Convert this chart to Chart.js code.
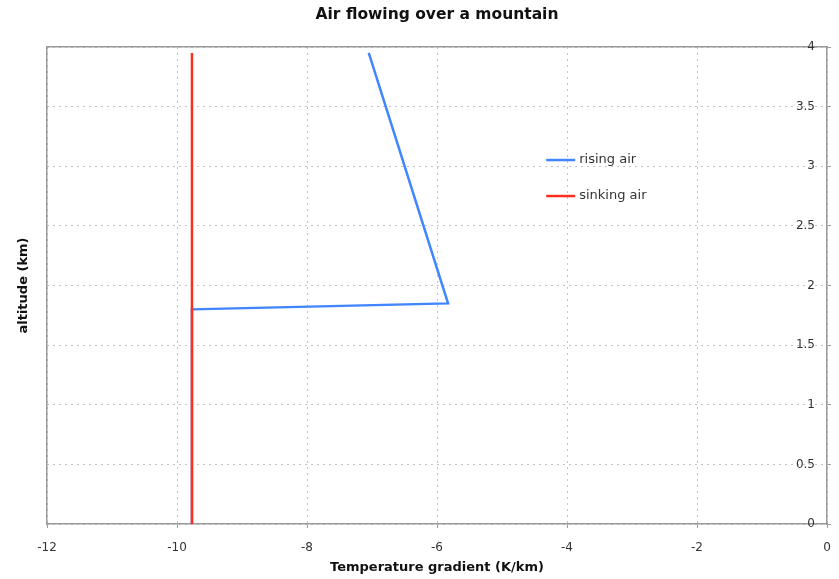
<!DOCTYPE html>
<html>
<head>
<meta charset="utf-8">
<script src="https://cdn.jsdelivr.net/npm/chart.js@4"></script>
<style>
  html, body { margin: 0; padding: 0; background: #fff; }
  #wrap { width: 839px; height: 579px; }
</style>
</head>
<body>
<div id="wrap"><canvas id="chart"></canvas></div>
<script>
// temperature gradient (K/km) and altitude (km)
const risingX = [-9.77, -9.77, -5.83, -7.05];
const risingY = [0, 1.8, 1.85, 3.95];
const sinkingX = [-9.77, -9.77];
const sinkingY = [0, 3.95];
const seriesNames = ["rising air", "sinking air"];

const toPoints = (xs, ys) => xs.map((x, i) => ({ x: x, y: ys[i] }));

const frameColor = "#9a9a9a";
const gridColor = "#c4c4c4";
const textColor = "#333";
const font = "'DejaVu Sans', Verdana, sans-serif";

// legend drawn inside the plot, placed as a fraction of the chart area
const innerLegend = {
  id: "innerLegend",
  afterDraw(chart) {
    const ctx = chart.ctx;
    const area = chart.chartArea;
    const x0 = area.left + 0.64 * (area.right - area.left);
    let y = area.top + 0.237 * (area.bottom - area.top);
    ctx.save();
    ctx.font = "13px " + font;
    ctx.textBaseline = "middle";
    chart.data.datasets.forEach((ds) => {
      ctx.strokeStyle = ds.borderColor;
      ctx.lineWidth = ds.borderWidth;
      ctx.beginPath();
      ctx.moveTo(x0, y);
      ctx.lineTo(x0 + 29, y);
      ctx.stroke();
      ctx.fillStyle = textColor;
      ctx.fillText(ds.label, x0 + 33, y);
      y += 36;
    });
    ctx.restore();
  },
};

const ctx = document.getElementById("chart").getContext("2d");
const chart = new Chart(ctx, {
  type: "scatter",
  data: {
    datasets: [
      {
        label: seriesNames[0],
        data: toPoints(risingX, risingY),
        showLine: true,
        borderColor: "#4185ff",
        backgroundColor: "#4185ff",
        borderWidth: 2.5,
        pointRadius: 0,
        tension: 0,
        order: 2,
      },
      {
        label: seriesNames[1],
        data: toPoints(sinkingX, sinkingY),
        showLine: true,
        borderColor: "#ff2f1f",
        backgroundColor: "#ff2f1f",
        borderWidth: 2.5,
        pointRadius: 0,
        tension: 0,
        order: 1,
      },
    ],
  },
  options: {
    responsive: true,
    maintainAspectRatio: false,
    animation: false,
    layout: { padding: { left: 0, right: 8, top: 0, bottom: 0 } },
    plugins: {
      legend: { display: false },
      tooltip: { enabled: false },
      title: { display: false },
    },
    scales: {
      x: {
        type: "linear",
        position: "bottom",
        min: -12,
        max: 0,
        ticks: { stepSize: 2, color: textColor, padding: 13, font: { family: font, size: 12 } },
        grid: { color: gridColor, tickLength: 4, tickColor: frameColor, tickBorderDash: [] },
        border: { color: frameColor, width: 1.5, dash: [2, 4] },
        title: {
          display: true,
          text: "Temperature gradient (K/km)",
          color: "#111",
          font: { family: font, size: 13, weight: "bold" },
          padding: { top: -9, bottom: 4 },
        },
        // the tick padding should not push the plot in from the sides
        afterFit: (scale) => {
          scale.paddingLeft = 0;
          scale.paddingRight = 0;
        },
      },
      // top edge of the frame, carrying the chart title centred on the plot
      xTop: {
        type: "linear",
        position: "top",
        min: -12,
        max: 0,
        ticks: { display: false },
        grid: { drawOnChartArea: false, drawTicks: false },
        border: { color: frameColor, width: 1.5 },
        title: {
          display: true,
          text: "Air flowing over a mountain",
          color: "#111",
          font: { family: font, size: 15.5, weight: "bold" },
          padding: { top: 5.7, bottom: 22.7 },
        },
      },
      y: {
        type: "linear",
        position: "right",
        min: 0,
        max: 4,
        ticks: {
          stepSize: 0.5,
          mirror: true,
          padding: -12,
          color: textColor,
          font: { family: font, size: 12 },
          callback: (v) => String(v),
        },
        grid: { color: gridColor, tickLength: 4, tickColor: frameColor, tickBorderDash: [] },
        border: { color: frameColor, width: 1.5, dash: [2, 4] },
        afterFit: (scale) => {
          scale.width = 4;
        },
      },
      yLeft: {
        type: "linear",
        position: "left",
        min: 0,
        max: 4,
        ticks: { display: false },
        grid: { drawOnChartArea: false, drawTicks: false },
        border: { color: frameColor, width: 1.5 },
        title: {
          display: true,
          text: "altitude (km)",
          color: "#111",
          font: { family: font, size: 13, weight: "bold" },
          padding: { top: 16, bottom: 15.4 },
        },
      },
    },
  },
  plugins: [innerLegend],
});
</script>
</body>
</html>
